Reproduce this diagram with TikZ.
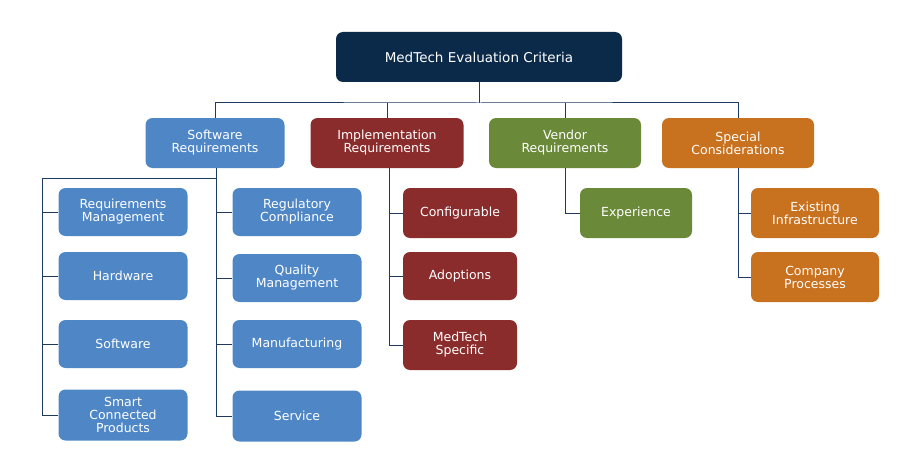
\documentclass[tikz,border=0pt]{standalone}
\usepackage{fontspec}
\setmainfont{DejaVu Sans}
\definecolor{navy}{HTML}{0B2A4A}
\definecolor{cblue}{HTML}{4F87C6}
\definecolor{cred}{HTML}{8B2C2C}
\definecolor{cgreen}{HTML}{6A8A3A}
\definecolor{corange}{HTML}{C8711E}
\definecolor{lne}{HTML}{1F3A5F}
\begin{document}
\begin{tikzpicture}[x=1pt,y=-1pt,
  box/.style={rounded corners=7pt,text=white,align=center,inner sep=0pt,font=\fontsize{12.5}{13}\selectfont},
  kid/.style={box,minimum width=129pt,minimum height=48pt},
  ln/.style={draw=lne,line width=1pt}]
\useasboundingbox (0,0) rectangle (911,460);
\node[box,fill=navy,minimum width=286pt,minimum height=50pt,font=\fontsize{13.5}{14}\selectfont] (top) at (479,57) {MedTech Evaluation Criteria};
\node[box,fill=cblue,minimum width=139pt,minimum height=50pt] (sw) at (215,143) {Software\\Requirements};
\node[box,fill=cred,minimum width=153pt,minimum height=50pt] (im) at (387,143) {Implementation\\Requirements};
\node[box,fill=cgreen,minimum width=152pt,minimum height=50pt] (ve) at (565,143) {Vendor\\Requirements};
\node[box,fill=corange,minimum width=152pt,minimum height=50pt] (sp) at (738,143) {Special\\Considerations};
\coordinate (bus) at (479,103);
\draw[ln] (top.south) -- (bus);
\draw[ln] (sw.north) |- (bus) -| (sp.north);
\draw[ln] (im.north) -- (387,103);
\draw[ln] (ve.north) -- (565,103);
% software children
\node[kid,fill=cblue] (a1) at (123,212) {Requirements\\Management};
\node[kid,fill=cblue] (a2) at (123,276) {Hardware};
\node[kid,fill=cblue] (a3) at (123,344) {Software};
\node[kid,fill=cblue,minimum height=51pt] (a4) at (123,415) {Smart\\Connected\\Products};
\node[kid,fill=cblue] (b1) at (297,212) {Regulatory\\Compliance};
\node[kid,fill=cblue] (b2) at (297,278) {Quality\\Management};
\node[kid,fill=cblue] (b3) at (297,344) {Manufacturing};
\node[kid,fill=cblue,minimum height=51pt] (b4) at (297,416) {Service};
\coordinate (sl) at (42,178);
\coordinate (sr) at (216,178);
\draw[ln] (216,168) -- (216,416) -- (b4.west);
\draw[ln] (sr) -- (sl) -- (42,415) -- (a4.west);
\foreach \n in {a1,a2,a3} \draw[ln] (\n.west) -- (42,0 |- \n.west);
\foreach \n in {b1,b2,b3} \draw[ln] (\n.west) -- (216,0 |- \n.west);
% implementation
\node[kid,fill=cred,minimum width=114pt,minimum height=50pt] (c1) at (460,213) {Configurable};
\node[kid,fill=cred,minimum width=114pt] (c2) at (460,276) {Adoptions};
\node[kid,fill=cred,minimum width=114pt,minimum height=50pt] (c3) at (460,345) {MedTech\\Specific};
\draw[ln] (389,168) -- (389,345) -- (c3.west);
\foreach \n in {c1,c2} \draw[ln] (\n.west) -- (389,0 |- \n.west);
% vendor
\node[kid,fill=cgreen,minimum width=112pt,minimum height=50pt] (d1) at (636,213) {Experience};
\draw[ln] (ve.south) |- (d1.west);
% special
\node[kid,fill=corange,minimum width=128pt,minimum height=50pt] (e1) at (815,213) {Existing\\Infrastructure};
\node[kid,fill=corange,minimum width=128pt,minimum height=50pt] (e2) at (815,277) {Company\\Processes};
\draw[ln] (sp.south) |- (e2.west);
\draw[ln] (e1.west) -- (738,0 |- e1.west);
\end{tikzpicture}
\end{document}
